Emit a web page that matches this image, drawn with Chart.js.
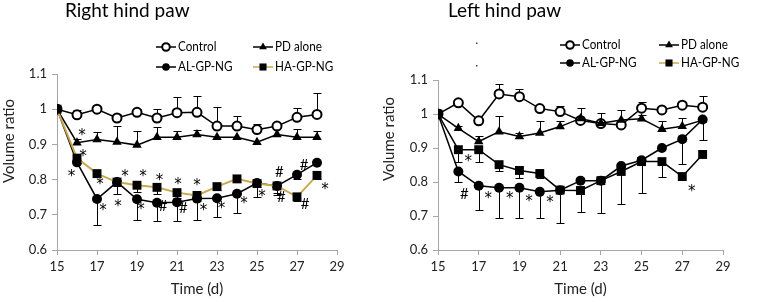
<!DOCTYPE html>
<html>
<head>
<meta charset="utf-8">
<script src="https://cdn.jsdelivr.net/npm/chart.js@4.4.1/dist/chart.umd.min.js"></script>
<style>
  html, body { margin: 0; padding: 0; background: #fff; }
  #wrap { display: flex; width: 760px; height: 302px; }
  canvas { display: block; }
</style>
</head>
<body>
<div id="wrap">
  <canvas id="rightPaw" width="380" height="302"></canvas>
  <canvas id="leftPaw" width="380" height="302"></canvas>
</div>
<script>
// shared axes
var days = [15, 16, 17, 18, 19, 20, 21, 22, 23, 24, 25, 26, 27, 28];
var seriesNames = ['Control', 'PD alone', 'AL-GP-NG', 'HA-GP-NG'];
var xTicks = [15, 17, 19, 21, 23, 25, 27, 29];
var yTicks = [0.6, 0.7, 0.8, 0.9, 1.0, 1.1];
var yTickLabels = ['0.6', '0.7', '0.8', '0.9', '1', '1.1'];

// Right hind paw (volume ratio, error = one-sided SD as drawn)
var rControl    = [1.0, 0.984, 1.0, 0.975, 0.991, 0.975, 0.99, 0.991, 0.952, 0.952, 0.942, 0.952, 0.977, 0.985];
var rControlErr = [0, 0.015, 0, 0.012, 0.01, 0.025, 0.045, 0.047, 0.055, 0.029, 0.017, 0, 0.025, 0.062];
var rPD         = [1.0, 0.905, 0.914, 0.907, 0.898, 0.92, 0.92, 0.928, 0.92, 0.92, 0.906, 0.928, 0.92, 0.92];
var rPDErr      = [0, 0.01, 0.021, 0.046, 0.039, 0.03, 0.017, 0.014, 0, 0, 0, 0, 0.023, 0.019];
var rAL         = [1.0, 0.849, 0.745, 0.793, 0.744, 0.734, 0.736, 0.746, 0.747, 0.76, 0.79, 0.782, 0.814, 0.848];
var rALErr      = [0, 0, 0.073, 0.035, 0.059, 0.052, 0.055, 0.06, 0.052, 0.054, 0.04, 0.025, 0.012, 0];
var rHA         = [1.0, 0.861, 0.817, 0.793, 0.784, 0.778, 0.763, 0.755, 0.78, 0.802, 0.789, 0.782, 0.751, 0.812];
var rHAErr      = [0, 0.005, 0.01, 0.01, 0.02, 0.02, 0.015, 0.015, 0.01, 0.01, 0.01, 0.02, 0.012, 0.01];
var rMarks = [
  [16.25, 0.934, '*'], [16.3, 0.875, '*'], [15.72, 0.82, '*'], [17.15, 0.797, '*'], [17.3, 0.722, '*'],
  [18.4, 0.819, '*'], [18.05, 0.733, '*'], [19.3, 0.819, '*'], [19.2, 0.725, '*'], [20.12, 0.808, '*'],
  [20.3, 0.727, '#'], [21.05, 0.795, '*'], [21.32, 0.72, '#'], [22.0, 0.792, '*'], [22.32, 0.721, '*'],
  [23.22, 0.727, '*'], [24.35, 0.741, '*'], [25.25, 0.761, '*'], [26.12, 0.823, '#'], [26.22, 0.753, '#'],
  [27.35, 0.844, '#'], [27.4, 0.733, '#'], [28.4, 0.782, '*']
];

// Left hind paw
var lControl    = [1.0, 1.033, 0.98, 1.059, 1.051, 1.016, 1.007, 0.981, 0.972, 0.968, 1.017, 1.012, 1.026, 1.02];
var lControlErr = [0, 0.005, 0, 0.029, 0.023, 0.007, 0.016, 0, 0.03, 0.044, 0.019, 0, 0.008, 0.032];
var lPD         = [1.0, 0.958, 0.919, 0.948, 0.934, 0.944, 0.963, 0.987, 0.973, 0.982, 0.986, 0.955, 0.964, 0.982];
var lPDErr      = [0, 0.008, 0.015, 0.046, 0.01, 0.034, 0.017, 0.03, 0, 0, 0.01, 0.024, 0.024, 0];
var lAL         = [1.0, 0.831, 0.789, 0.783, 0.783, 0.771, 0.776, 0.804, 0.804, 0.847, 0.864, 0.9, 0.926, 0.984];
var lALErr      = [0, 0.03, 0.071, 0.088, 0.088, 0.078, 0.098, 0, 0, 0, 0, 0, 0.073, 0.059];
var lHA         = [1.0, 0.895, 0.895, 0.851, 0.834, 0.825, 0.776, 0.775, 0.804, 0.831, 0.86, 0.86, 0.816, 0.881];
var lHAErr      = [0, 0.036, 0.036, 0.02, 0.021, 0.012, 0, 0.062, 0.096, 0.096, 0.093, 0.044, 0, 0];
var lMarks = [
  [16.49, 0.872, '*'], [16.3, 0.767, '#'], [17.47, 0.762, '*'], [18.52, 0.762, '*'],
  [19.47, 0.754, '*'], [20.5, 0.751, '*'], [27.47, 0.781, '*']
];

var fontFamily = 'Lato, "Liberation Sans", sans-serif';
var axisGrey = '#a6a6a6';
var haGold = '#c9a94f';

function points(values) {
  return days.map(function (d, i) { return { x: d, y: values[i] }; });
}

function buildDatasets(p) {
  return [
    { label: seriesNames[0], data: points(p.control), errors: p.controlErr, errDir: 1, order: 3,
      borderColor: '#000', borderWidth: 1.5, pointStyle: 'circle', pointRadius: 4.5,
      pointBorderWidth: 2, pointBackgroundColor: '#fff', pointBorderColor: '#000' },
    { label: seriesNames[1], data: points(p.pd), errors: p.pdErr, errDir: 1, order: 2,
      borderColor: '#000', borderWidth: 1.5, pointStyle: 'triangle', pointRadius: 5.5,
      pointBorderWidth: 0, pointBackgroundColor: '#000', pointBorderColor: '#000' },
    { label: seriesNames[2], data: points(p.al), errors: p.alErr, errDir: -1, order: 1,
      borderColor: '#000', borderWidth: 1.5, pointStyle: 'circle', pointRadius: 5,
      pointBorderWidth: 0, pointBackgroundColor: '#000', pointBorderColor: '#000' },
    { label: seriesNames[3], data: points(p.ha), errors: p.haErr, errDir: -1, order: 0,
      borderColor: p.haLine, borderWidth: p.haLine === '#000' ? 1.5 : 2, pointStyle: 'rect', pointRadius: 6.3,
      pointBorderWidth: 0, pointBackgroundColor: '#000', pointBorderColor: '#000' }
  ];
}

// one-sided error bars with caps, drawn under the lines
var errorBars = {
  id: 'errorBars',
  beforeDatasetsDraw: function (chart) {
    var ctx = chart.ctx, xs = chart.scales.x, ys = chart.scales.y;
    ctx.save();
    ctx.strokeStyle = '#000';
    ctx.lineWidth = 1;
    chart.data.datasets.forEach(function (ds) {
      ds.data.forEach(function (p, i) {
        var e = ds.errors[i];
        if (!e) return;
        var px = Math.round(xs.getPixelForValue(p.x)) + 0.5;
        var y0 = ys.getPixelForValue(p.y);
        var y1 = Math.round(ys.getPixelForValue(p.y + ds.errDir * e)) + 0.5;
        ctx.beginPath();
        ctx.moveTo(px, y0);
        ctx.lineTo(px, y1);
        ctx.moveTo(px - 4, y1);
        ctx.lineTo(px + 4, y1);
        ctx.stroke();
      });
    });
    ctx.restore();
  }
};

// text squeezed sideways a little, like the narrow face of the original
function narrowText(ctx, text, x, y, sx) {
  ctx.save();
  ctx.translate(x, y);
  ctx.scale(sx, 1);
  ctx.fillText(text, 0, 0);
  ctx.restore();
}

// significance marks, panel title, y title, legend
var decor = {
  id: 'decor',
  afterDraw: function (chart, args, o) {
    var ctx = chart.ctx, xs = chart.scales.x, ys = chart.scales.y;
    ctx.save();
    ctx.fillStyle = '#000';

    ctx.textAlign = 'center';
    ctx.textBaseline = 'alphabetic';
    o.marks.forEach(function (m) {
      ctx.font = m[2] === '*' ? '15px "DejaVu Sans", sans-serif' : '15px ' + fontFamily;
      var t = ctx.measureText(m[2]);
      var px = xs.getPixelForValue(m[0]);
      var py = ys.getPixelForValue(m[1]);
      ctx.fillText(m[2], px, py + (t.actualBoundingBoxAscent - t.actualBoundingBoxDescent) / 2);
    });

    ctx.textAlign = 'left';
    ctx.font = '19px ' + fontFamily;
    ctx.fillText(o.title, o.titleX, 17);

    // y axis title, sitting a bit above the middle of the axis as in the source
    ctx.save();
    ctx.translate(9, o.yTitleY);
    ctx.rotate(-Math.PI / 2);
    ctx.textAlign = 'center';
    ctx.textBaseline = 'middle';
    ctx.fillStyle = '#222';
    ctx.font = '15px ' + fontFamily;
    ctx.fillText('Volume ratio', 0, 0);
    ctx.restore();

    ctx.font = '13px ' + fontFamily;
    ctx.textBaseline = 'middle';
    chart.data.datasets.forEach(function (ds, i) {
      var lx = o.legendX[i % 2], ly = o.legendY[Math.floor(i / 2)];
      ctx.strokeStyle = i === 3 ? haGold : '#000';
      ctx.lineWidth = 1.5;
      ctx.beginPath();
      ctx.moveTo(lx, ly);
      ctx.lineTo(lx + 20, ly);
      ctx.stroke();
      var st = {
        pointStyle: ds.pointStyle,
        radius: ds.pointStyle === 'rect' ? 5 : (ds.pointStyle === 'triangle' ? 4.5 : 3.8),
        borderWidth: ds.pointBorderWidth || 0, rotation: 0
      };
      ctx.fillStyle = ds.pointBackgroundColor;
      ctx.strokeStyle = '#000';
      ctx.lineWidth = st.borderWidth || 1;
      Chart.helpers.drawPoint(ctx, st, lx + 10, ly);
      ctx.fillStyle = '#000';
      narrowText(ctx, ds.label, lx + 22, ly, 0.9);
    });

    (o.dots || []).forEach(function (d) {
      ctx.fillStyle = '#444';
      ctx.fillRect(d[0], d[1], 1.5, 1.5);
    });
    ctx.restore();
  }
};

function makeChart(id, p) {
  return new Chart(document.getElementById(id).getContext('2d'), {
    type: 'line',
    data: { datasets: buildDatasets(p) },
    options: {
      responsive: false,
      animation: false,
      layout: { padding: { top: p.top, right: p.right, bottom: 0, left: 0 } },
      elements: { line: { tension: 0 } },
      plugins: {
        legend: { display: false },
        tooltip: { enabled: false },
        decor: { title: p.title, titleX: p.titleX, legendX: p.legendX, legendY: p.legendY,
                 marks: p.marks, dots: p.dots, yTitleY: p.yTitleY }
      },
      scales: {
        x: {
          type: 'linear', min: 15, max: 29,
          afterBuildTicks: function (axis) { axis.ticks = xTicks.map(function (v) { return { value: v }; }); },
          afterFit: function (s) { s.height = 52; },
          ticks: { color: '#222', font: { family: fontFamily, size: 13 }, padding: 4, maxRotation: 0,
                   callback: function (v) { return String(v); } },
          grid: { drawOnChartArea: false, drawTicks: true, tickLength: 5, color: axisGrey },
          border: { color: axisGrey },
          title: { display: true, text: 'Time (d)', color: '#222', font: { family: fontFamily, size: 15 },
                   padding: { top: 0, bottom: 4 } }
        },
        y: {
          min: 0.6, max: 1.1,
          afterBuildTicks: function (axis) { axis.ticks = yTicks.map(function (v) { return { value: v }; }); },
          afterFit: function (s) { s.width = p.left; },
          ticks: { color: '#222', font: { family: fontFamily, size: 13 }, padding: 5,
                   callback: function (v) {
                     var k = yTicks.findIndex(function (t) { return Math.abs(t - v) < 1e-6; });
                     return yTickLabels[k];
                   } },
          grid: { drawOnChartArea: false, drawTicks: true, tickLength: 5, color: axisGrey },
          border: { color: axisGrey }
        }
      }
    },
    plugins: [errorBars, decor]
  });
}

makeChart('rightPaw', {
  control: rControl, controlErr: rControlErr, pd: rPD, pdErr: rPDErr,
  al: rAL, alErr: rALErr, ha: rHA, haErr: rHAErr, haLine: haGold, marks: rMarks,
  title: 'Right hind paw', titleX: 65, legendX: [156, 253], legendY: [47, 67], yTitleY: 141,
  top: 74, right: 43, left: 57
});

makeChart('leftPaw', {
  control: lControl, controlErr: lControlErr, pd: lPD, pdErr: lPDErr,
  al: lAL, alErr: lALErr, ha: lHA, haErr: lHAErr, haLine: '#000', marks: lMarks,
  title: 'Left hind paw', titleX: 68, legendX: [180, 279], legendY: [45, 63], yTitleY: 139,
  dots: [[96, 42.5], [96, 65]],
  top: 80, right: 37, left: 58
});
</script>
</body>
</html>
